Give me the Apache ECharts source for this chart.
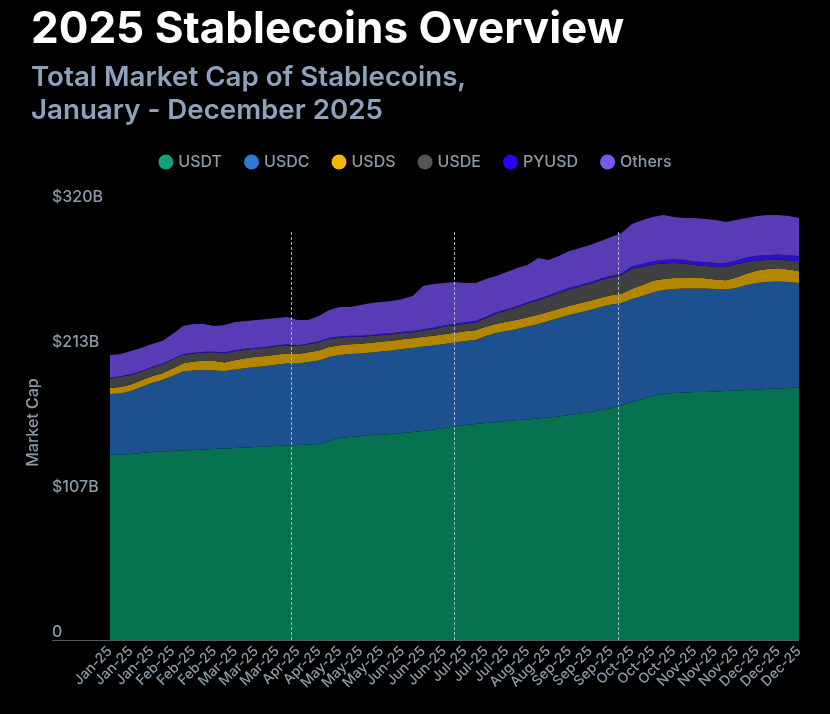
<!DOCTYPE html>
<html>
<head>
<meta charset="utf-8">
<script src="https://cdn.jsdelivr.net/npm/echarts@6/dist/echarts.min.js"></script>
<style>
  html, body { margin: 0; padding: 0; background: #000; }
  #chart { width: 830px; height: 714px; }
</style>
</head>
<body>
<div id="chart"></div>
<script>
// x-axis tick labels (about every 11 days); points sit on each tick and halfway between
const tickLabels = ['Jan-25','Jan-25','Jan-25','Feb-25','Feb-25','Feb-25','Mar-25','Mar-25','Mar-25',
  'Apr-25','Apr-25','May-25','May-25','May-25','Jun-25','Jun-25','Jun-25','Jul-25','Jul-25','Jul-25',
  'Aug-25','Aug-25','Sep-25','Sep-25','Sep-25','Oct-25','Oct-25','Oct-25','Nov-25','Nov-25','Nov-25',
  'Dec-25','Dec-25','Dec-25']
const yTickLabels = ['0', '$107B', '$213B', '$320B']

// market cap, billions USD
const usdt = [136.1,136.5,136.8,137.6,138.3,138.7,139.0,139.4,139.8,140.1,
  140.5,140.9,141.2,141.6,142.0,142.3,142.7,143.1,143.4,143.8,
  144.2,146.4,148.6,149.3,150.1,150.8,151.2,151.5,152.3,153.0,
  153.7,154.8,156.0,157.1,158.2,158.9,159.6,160.4,161.1,161.8,
  162.2,162.9,163.7,164.4,165.5,166.6,167.7,169.2,170.7,172.5,
  175.1,177.3,179.5,181.0,181.7,182.1,182.4,182.4,182.8,183.2,
  183.5,183.9,184.3,184.6,185.0,185.4,185.7]
const usdc = [44.9,44.9,46.3,48.6,50.8,52.6,55.2,58.1,58.5,58.5,
  57.7,57.0,57.7,58.5,58.9,59.2,60.0,60.3,60.0,60.7,
  61.4,61.8,61.1,61.1,60.7,60.7,61.1,61.4,61.8,61.8,
  62.2,61.8,61.8,61.8,61.8,61.8,64.0,65.5,66.2,66.9,
  68.4,69.5,71.0,72.5,73.6,74.3,75.0,75.8,76.1,75.4,
  75.8,75.8,76.1,76.5,76.5,76.5,76.1,76.1,75.4,74.7,
  75.4,77.2,78.3,78.7,78.7,78.0,76.9]
const usds = [4.4,4.8,4.9,4.9,4.9,4.9,5.5,6.1,6.6,6.8,
  7.0,6.3,7.0,7.2,7.4,7.4,7.4,7.4,7.0,7.2,
  7.4,7.4,7.2,7.2,7.2,7.2,7.2,7.2,7.2,7.2,
  7.2,7.2,7.2,7.2,7.2,7.2,6.8,6.8,6.8,6.8,
  6.8,6.8,6.8,6.8,6.8,6.8,6.8,6.8,6.8,6.8,
  7.4,8.1,8.6,8.1,8.1,8.1,8.1,7.7,7.0,6.8,
  7.7,8.5,9.2,9.6,9.8,9.2,8.6]
const usde = [6.8,7.4,7.0,6.3,6.3,6.6,6.6,6.1,5.9,6.1,
  6.4,6.8,6.6,6.3,6.1,6.1,6.1,6.1,5.9,5.9,
  6.1,5.9,5.5,5.4,5.1,4.9,4.9,4.8,4.6,4.4,
  4.6,5.0,5.4,5.5,5.5,5.7,6.3,7.4,8.3,9.2,
  10.1,10.5,11.0,11.5,12.0,12.3,12.5,12.9,13.1,13.6,
  14.7,13.2,12.0,11.4,11.0,10.3,9.2,9.0,9.4,9.8,
  9.8,8.5,7.4,6.6,6.3,6.6,7.4]
const pyusd = [0.5,0.5,0.5,0.5,0.5,0.5,0.5,0.5,0.5,0.5,
  0.5,0.6,0.6,0.6,0.6,0.6,0.6,0.6,0.6,0.6,
  0.6,0.8,0.8,0.8,0.8,0.8,0.8,0.8,0.8,0.8,
  0.8,1.0,1.0,1.0,1.0,1.0,1.0,1.0,1.0,1.0,
  1.0,1.2,1.2,1.2,1.2,1.2,1.2,1.3,1.3,1.3,
  2.0,2.3,2.5,2.6,2.7,2.7,2.7,2.8,2.8,2.9,
  3.0,3.2,3.4,3.6,3.7,3.8,3.8]
const others = [17.0,16.3,17.1,16.9,16.9,16.7,18.3,20.8,21.2,20.5,
  18.9,20.1,20.8,20.5,20.4,20.5,20.1,20.1,18.5,17.2,
  18.6,20.5,21.8,21.2,22.5,23.5,23.4,23.7,24.2,25.9,
  31.9,32.1,31.2,30.8,28.9,28.0,27.9,26.7,27.3,28.0,
  27.4,30.1,25.8,26.1,27.1,27.2,27.4,27.5,28.5,29.8,
  31.0,32.3,32.5,33.0,31.2,30.7,31.9,31.7,31.6,30.1,
  29.6,29.1,29.3,29.5,29.1,28.9,28.0]

// quarter starts (Apr 1, Jul 1, Oct 1) as positions on the point index
const quarterMarks = [17.35, 32.95, 48.65]

// categories: each tick label, plus an unlabelled point halfway to the next one
const categories = []
tickLabels.forEach((t, i) => {
  categories.push(t)
  if (i < tickLabels.length - 1) categories.push(t)
})

const seriesDefs = [
  { name: 'USDT', data: usdt, color: '#12a27a', area: '#06724f' },
  { name: 'USDC', data: usdc, color: '#2f7ad3', area: '#1c508e' },
  { name: 'USDS', data: usds, color: '#f7b500', area: '#b38600' },
  { name: 'USDE', data: usde, color: '#555555', area: '#404040' },
  { name: 'PYUSD', data: pyusd, color: '#2b00f5', area: '#2c10c4' },
  { name: 'Others', data: others, color: '#7a58f0', area: '#583bb5' }
]

const chart = echarts.init(document.getElementById('chart'))

const option = {
  backgroundColor: '#000000',
  title: [
    {
      text: '2025 Stablecoins Overview',
      left: 26,
      top: 3,
      textStyle: { color: '#ffffff', fontFamily: 'Inter', fontWeight: 'bold', fontSize: 44 }
    },
    {
      text: 'Total Market Cap of Stablecoins,\nJanuary - December 2025',
      left: 26,
      top: 56,
      textStyle: { color: '#8ea2bd', fontFamily: 'Inter', fontWeight: 600, fontSize: 27.7, lineHeight: 33 }
    }
  ],
  legend: {
    top: 149,
    left: 'center',
    icon: 'circle',
    itemWidth: 15,
    itemHeight: 15,
    itemGap: 22,
    textStyle: { color: '#8b9ba7', fontFamily: 'Inter', fontSize: 16, fontWeight: 500 },
    data: seriesDefs.map(s => s.name)
  },
  grid: { left: 110, right: 31, top: 205, bottom: 74 },
  xAxis: [
    {
      type: 'category',
      data: categories,
      boundaryGap: false,
      axisLine: { show: false },
      axisTick: { show: false },
      axisLabel: {
        interval: 1,
        rotate: 45,
        margin: 9,
        color: '#8b9ba7',
        fontFamily: 'Inter',
        fontWeight: 500,
        fontSize: 14
      },
      splitLine: { show: false }
    },
    {
      type: 'value',
      min: 0,
      max: categories.length - 1,
      show: false
    }
  ],
  yAxis: {
    type: 'value',
    min: 0,
    max: 320,
    interval: 320 / 3,
    name: 'Market Cap',
    nameLocation: 'middle',
    nameGap: 60,
    nameRotate: 90,
    nameTextStyle: { color: '#8b9ba7', fontFamily: 'Inter', fontSize: 16, fontWeight: 500 },
    axisLine: { show: false },
    axisTick: { show: false },
    splitLine: { show: false },
    axisLabel: {
      align: 'left',
      verticalAlign: 'bottom',
      margin: 58,
      color: '#8b9ba7',
      fontFamily: 'Inter',
      fontWeight: 500,
      fontSize: 16,
      formatter: (v, i) => yTickLabels[i]
    }
  },
  graphic: [
    {
      type: 'line',
      z: -1,
      shape: { x1: 52, y1: 640.5, x2: 799, y2: 640.5 },
      style: { stroke: '#555a5e', lineWidth: 1 }
    }
  ],
  series: seriesDefs.map(s => ({
    name: s.name,
    type: 'line',
    stack: 'total',
    data: s.data,
    color: s.color,
    showSymbol: false,
    lineStyle: { width: 0 },
    areaStyle: { color: s.area, opacity: 1 },
    emphasis: { disabled: true }
  })).concat([
    {
      name: 'quarters',
      type: 'line',
      xAxisIndex: 1,
      data: [],
      silent: true,
      z: 5,
      markLine: {
        symbol: ['none', 'none'],
        silent: true,
        label: { show: false },
        lineStyle: { color: '#a9b8c0', type: [3, 2], width: 1 },
        data: quarterMarks.map(q => [{ coord: [q, 0] }, { coord: [q, 300] }])
      }
    }
  ])
}

chart.setOption(option)
</script>
</body>
</html>
